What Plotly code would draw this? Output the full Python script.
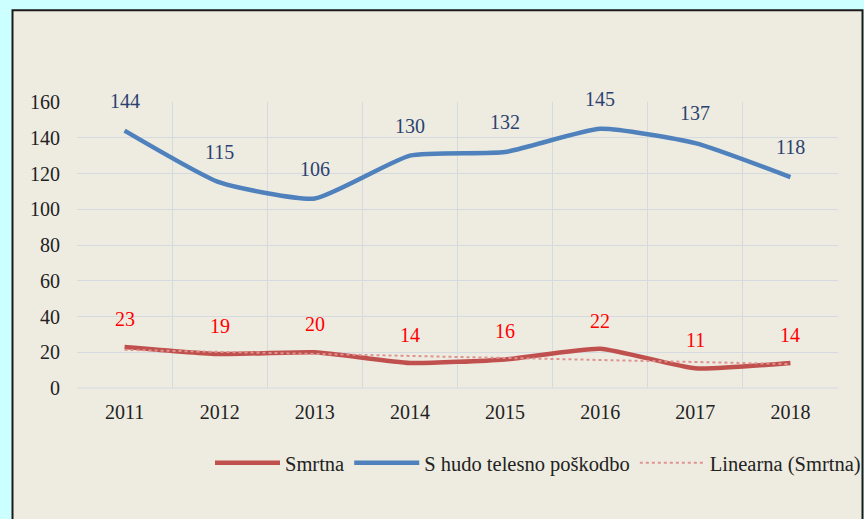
import numpy as np
import plotly.graph_objects as go

years = ["2011", "2012", "2013", "2014", "2015", "2016", "2017", "2018"]
smrtna = [23, 19, 20, 14, 16, 22, 11, 14]
hudo = [144, 115, 106, 130, 132, 145, 137, 118]
y_ticks = [0, 20, 40, 60, 80, 100, 120, 140, 160]

# linear trend of Smrtna (Excel "Linearna")
xi = np.arange(len(smrtna))
k, n = np.polyfit(xi, smrtna, 1)
trend = list(k * xi + n)

W, H = 864, 519
L, R, T, B = 77, 838, 101.5, 388
pw, ph = R - L, B - T

def px(x):
    return (x - L) / pw

def py(y):
    return (B - y) / ph

FONT = "Liberation Serif, Times New Roman, serif"
RED = "#C0504D"
BLUE = "#4F81BD"
FS = 20

fig = go.Figure()
fig.add_trace(go.Scatter(x=years, y=smrtna, name="Smrtna", mode="lines",
                         line=dict(color=RED, width=4.5, shape="spline", smoothing=0.5)))
fig.add_trace(go.Scatter(x=years, y=hudo, name="S hudo telesno poškodbo", mode="lines",
                         line=dict(color=BLUE, width=4.5, shape="spline", smoothing=0.5)))
fig.add_trace(go.Scatter(x=years, y=trend, name="Linearna (Smrtna)", mode="lines",
                         line=dict(color="#DE9391", width=2, dash="dot")))

for i, v in enumerate(hudo):
    fig.add_annotation(x=i, y=v, text=str(v), showarrow=False, yshift=30,
                       font=dict(family=FONT, size=FS, color="#2B4270"))
for i, v in enumerate(smrtna):
    fig.add_annotation(x=i, y=v, text=str(v), showarrow=False, yshift=28,
                       font=dict(family=FONT, size=FS, color="#FF0000"))

# beige panel with dark border
fig.add_shape(type="rect", xref="paper", yref="paper",
              x0=px(12.5), x1=px(862.5), y0=py(540), y1=py(9.5),
              fillcolor="#EEECE1", line=dict(color="#1A1A1A", width=2), layer="below")

fig.update_layout(
    width=W, height=H,
    margin=dict(l=L, r=W - R, t=T, b=H - B, autoexpand=False),
    paper_bgcolor="#CCFFFF",
    plot_bgcolor="rgba(0,0,0,0)",
    font=dict(family=FONT, size=FS, color="#222222"),
    showlegend=True,
    legend=dict(orientation="h", xref="container", yref="container",
                x=210 / W, xanchor="left", y=1 - 463 / H, yanchor="middle",
                bgcolor="rgba(0,0,0,0)", font=dict(family=FONT, size=20.5, color="#222222"),
                itemwidth=65, tracegroupgap=0),
)
fig.update_xaxes(type="category", range=[-0.5, 7.5], tickson="boundaries",
                 showgrid=True, gridcolor="#D5D9E0", gridwidth=1,
                 showline=False, zeroline=False, ticks="", ticklabelstandoff=10,
                 tickfont=dict(family=FONT, size=FS, color="#222222"))
fig.update_yaxes(range=[0, 160], tickvals=y_ticks, showgrid=True, gridcolor="#D5D9E0",
                 gridwidth=1, zeroline=False, showline=False, ticks="",
                 ticklabelstandoff=16,
                 tickfont=dict(family=FONT, size=FS, color="#222222"))
fig.add_shape(type="line", xref="paper", yref="paper", x0=0, x1=1, y0=0, y1=0,
              line=dict(color="#D5D9E0", width=1), layer="below")

fig.write_html("out.html", config={"displayModeBar": False},
               post_script="document.body.style.margin='0';document.body.style.background='#CCFFFF';")
